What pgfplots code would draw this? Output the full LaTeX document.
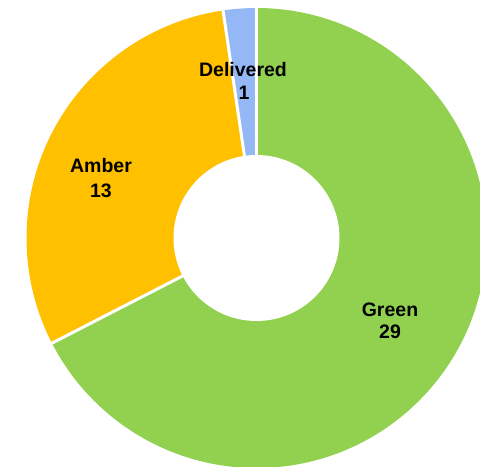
\documentclass[border=0pt]{standalone}
\usepackage{pgfplots}
\pgfplotsset{compat=1.18}
\usepackage{pgfplotstable}
\usepackage{fontspec}
\setmainfont{Liberation Sans}
\definecolor{cGreen}{HTML}{92D050}
\definecolor{cAmber}{HTML}{FFC000}
\definecolor{cBlue}{HTML}{94B8F5}
\pgfplotstableread{
name value
Green 29
Amber 13
Delivered 1
}\donutdata
\pgfplotstablegetelem{0}{value}\of\donutdata \global\let\vG\pgfplotsretval
\pgfplotstablegetelem{1}{value}\of\donutdata \global\let\vA\pgfplotsretval
\pgfplotstablegetelem{2}{value}\of\donutdata \global\let\vD\pgfplotsretval
\pgfmathsetmacro{\tot}{\vG+\vA+\vD}
\pgfmathsetmacro{\aZero}{90}
\pgfmathsetmacro{\aOne}{90-360*\vG/\tot}
\pgfmathsetmacro{\aTwo}{\aOne-360*\vA/\tot}
\pgfmathsetmacro{\aThree}{\aTwo-360*\vD/\tot}
\def\cx{256.5}
\def\cy{228}
\begin{document}
\begin{tikzpicture}
\begin{axis}[
  width=480bp, height=466bp, scale only axis,
  xmin=0, xmax=480, ymin=0, ymax=466,
  hide axis, clip=true,
]
\fill[cGreen] (axis cs:\cx,\cy) -- ++(\aZero:230bp) arc[start angle=\aZero, end angle=\aOne, radius=230bp] -- cycle;
\fill[cAmber] (axis cs:\cx,\cy) -- ++(\aOne:230bp) arc[start angle=\aOne, end angle=\aTwo, radius=230bp] -- cycle;
\fill[cBlue] (axis cs:\cx,\cy) -- ++(\aTwo:230bp) arc[start angle=\aTwo, end angle=\aThree, radius=230bp] -- cycle;
\draw[white, line width=3bp] (axis cs:\cx,\cy) -- ++(\aZero:231bp);
\draw[white, line width=3bp] (axis cs:\cx,\cy) -- ++(\aOne:231bp);
\draw[white, line width=3bp] (axis cs:\cx,\cy) -- ++(\aTwo:231bp);
\fill[white] (axis cs:\cx,\cy) circle[radius=83bp];
\node[anchor=base, font=\fontsize{19.5bp}{22bp}\selectfont\bfseries, inner sep=0pt] at (axis cs:243,389) {Delivered};
\node[anchor=base, font=\fontsize{19.5bp}{22bp}\selectfont\bfseries, inner sep=0pt] at (axis cs:244,366) {\vD};
\node[anchor=base, font=\fontsize{19.5bp}{22bp}\selectfont\bfseries, inner sep=0pt] at (axis cs:101,293) {Amber};
\node[anchor=base, font=\fontsize{19.5bp}{22bp}\selectfont\bfseries, inner sep=0pt] at (axis cs:101,269) {\vA};
\node[anchor=base, font=\fontsize{19.5bp}{22bp}\selectfont\bfseries, inner sep=0pt] at (axis cs:390,150) {Green};
\node[anchor=base, font=\fontsize{19.5bp}{22bp}\selectfont\bfseries, inner sep=0pt] at (axis cs:390,128) {\vG};
\end{axis}
\pgfresetboundingbox
\path[use as bounding box] (current axis.south west) rectangle (current axis.north east);
\end{tikzpicture}
\end{document}
